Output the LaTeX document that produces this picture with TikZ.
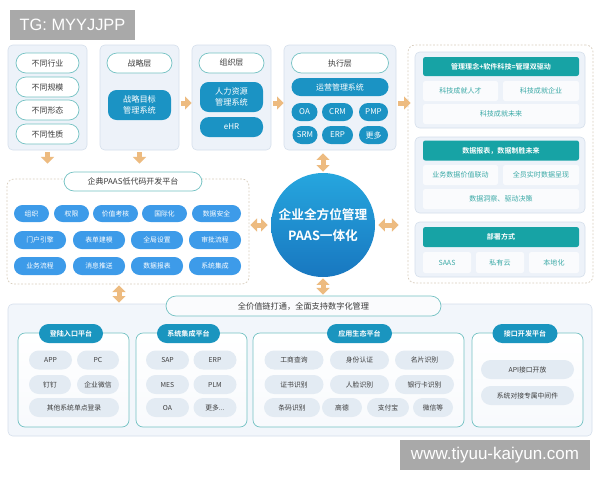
\documentclass[tikz,border=0pt]{standalone}
\usepackage{fontspec}
\setmainfont{Noto Sans CJK SC}[BoldFont={Noto Sans CJK SC Bold}]
\newfontfamily\wmfont{Liberation Sans}
\usetikzlibrary{arrows.meta, positioning, calc}
\definecolor{panelbg}{HTML}{EDF2F9}
\definecolor{panelln}{HTML}{D5DFEC}
\definecolor{tealln}{HTML}{74C2C3}
\definecolor{deepblue}{HTML}{1B93C4}
\definecolor{tealhead}{HTML}{17A3A5}
\definecolor{tealtxt}{HTML}{3AA9A6}
\definecolor{brightblue}{HTML}{3D9BE9}
\definecolor{itembg}{HTML}{E3EBF3}
\definecolor{dashln}{HTML}{D8CDBD}
\definecolor{arrowc}{HTML}{EDBB80}
\definecolor{txtc}{HTML}{3C3C3C}
\definecolor{wmgrey}{HTML}{A9A9A9}
\definecolor{hubtop}{HTML}{26A6DE}
\definecolor{hubbot}{HTML}{1877C0}
\tikzset{wh/.style 2 args={minimum width=#1*0.3mm, minimum height=#2*0.3mm}}

\begin{document}
\begin{tikzpicture}[x=0.3mm, y=-0.3mm,
    every node/.style={inner sep=0pt, align=center},
    panel/.style={draw=panelln, fill=panelbg, rounded corners=4pt, line width=0.5pt},
    group/.style={draw=dashln, dash pattern=on 1.5pt off 1.5pt, rounded corners=6pt, line width=0.6pt},
    tpill/.style={draw=tealln, fill=white, rounded corners=3mm, line width=0.6pt, text=txtc, font=\fontsize{6.8}{8}\selectfont},
    dbox/.style={fill=deepblue, rounded corners=2.6mm, text=white, font=\fontsize{7}{10}\selectfont},
    dcirc/.style={fill=deepblue, rounded corners=2.7mm, text=white, font=\fontsize{6.8}{8}\selectfont},
    head/.style={fill=tealhead, rounded corners=2pt, text=white, font=\fontsize{6}{7}\selectfont\bfseries},
    sub/.style={fill=white!70!panelbg, rounded corners=2pt, text=tealtxt, font=\fontsize{6}{7}\selectfont},
    bpill/.style={fill=brightblue, rounded corners=2.6mm, text=white, font=\fontsize{5.8}{7}\selectfont},
    subpanel/.style={draw=tealln, top color=white, bottom color=white!60!panelbg, rounded corners=6pt, line width=0.6pt},
    hpill/.style={fill=deepblue!85!tealhead, rounded corners=2.9mm, text=white, font=\fontsize{6}{7}\selectfont\bfseries},
    item/.style={fill=itembg, rounded corners=2.9mm, text=txtc, font=\fontsize{5.8}{7}\selectfont},
    hub/.style={circle, top color=hubtop, bottom color=hubbot, text=white, font=\fontsize{10.8}{18}\selectfont\bfseries},
    barr/.style={arrowc, line width=1.5mm, -{Triangle[length=2mm, width=3.8mm]}},
    darr/.style={arrowc, line width=1.5mm, {Triangle[length=2mm, width=3.8mm]}-{Triangle[length=2mm, width=3.8mm]}},
    mark box/.style={fill=wmgrey, text=white}]
    \useasboundingbox[fill=white] (0,0) rectangle (600,480);
    % watermark top
    \node[mark box, wh={125}{30}, font=\wmfont\fontsize{14}{16}\selectfont] (tg) at (72.5,25) {TG: MYYJJPP};
    % top row: four layers
    \node[panel, wh={79}{105}] (c1) at (47.5,97.5) {};
    \node[panel, wh={79}{105}] (c2) at (139.5,97.5) {};
    \node[panel, wh={79}{105}] (c3) at (231.5,97.5) {};
    \node[panel, wh={112}{105}] (c4) at (340,97.5) {};
    \foreach \t/\y [count=\i] in {不同行业/63, 不同规模/87, 不同形态/110, 不同性质/134}
        \node[tpill, wh={63}{20}] (c1p\i) at (47.5,\y) {\t};
    \node[tpill, wh={65}{20}] (c2p) at (139.5,63) {战略层};
    \node[dbox, wh={63}{30}] (c2b) at (139.5,105) {战略目标\\管理系统};
    \node[tpill, wh={65}{20}] (c3p) at (231.5,63) {组织层};
    \node[dbox, wh={63}{30}] (c3b) at (231.5,97) {人力资源\\管理系统};
    \node[dcirc, wh={63}{20}] (ehr) at (231.5,127) {eHR};
    \node[tpill, wh={97}{20}] (c4p) at (340,63) {执行层};
    \node[dcirc, wh={97}{18}] (ops) at (340,87) {运营管理系统};
    \foreach \t/\x/\w [count=\i] in {OA/304.5/26, CRM/337.5/31, PMP/373.5/29}
        \node[dcirc, wh={\w}{18}] (r1\i) at (\x,112) {\t};
    \foreach \t/\x/\w [count=\i] in {SRM/305/25, ERP/337.5/31, 更多/373.5/29}
        \node[dcirc, wh={\w}{18}] (r2\i) at (\x,135) {\t};
    % right group
    \node[group, wh={185}{238}] (rgrp) at (500.5,164) {};
    \node[panel, wh={170}{76}] (pa) at (500,90) {};
    \node[head, wh={156}{19}] (pah) at (501,66.5) {管理理念+软件科技=管理双驱动};
    \node[sub, wh={75}{20}] (pa1) at (460.5,91) {科技成就人才};
    \node[sub, wh={76}{20}] (pa2) at (541,91) {科技成就企业};
    \node[sub, wh={156}{20}] (pa3) at (501,114) {科技成就未来};
    \node[panel, wh={170}{76}] (pb) at (500,175) {};
    \node[head, wh={156}{20}] (pbh) at (501,150.5) {数据报表，数据制胜未来};
    \node[sub, wh={75}{20}] (pb1) at (460.5,175) {业务数据价值联动};
    \node[sub, wh={76}{20}] (pb2) at (541,175) {全员实时数据呈现};
    \node[sub, wh={156}{20}] (pb3) at (501,199) {数据洞察、驱动决策};
    \node[panel, wh={170}{55}] (pc) at (500,249.5) {};
    \node[head, wh={156}{20}] (pch) at (501,237) {部署方式};
    \foreach \t/\x/\w [count=\i] in {SAAS/447/48, 私有云/500/48, 本地化/554/50}
        \node[sub, wh={\w}{21}] (pc\i) at (\x,262.5) {\t};
    % hub
    \node[hub, minimum size=104*0.3mm] (hub) at (323,225) {企业全方位管理\\PAAS一体化};
    % left group
    \node[group, wh={242}{105}] (lgrp) at (128,231.5) {};
    \node[tpill, wh={138}{19}] (lgt) at (133,181.5) {企典PAAS低代码开发平台};
    \foreach \t/\x/\w [count=\i] in {组织/31.5/35, 权限/71.5/35, 价值考核/115.5/45, 国际化/164.5/45, 数据安全/216.5/49}
        \node[bpill, wh={\w}{17}] (la\i) at (\x,213.5) {\t};
    \foreach \t/\x [count=\i] in {门户引擎/40, 表单建模/99, 全局设置/157, 审批流程/215}
        \node[bpill, wh={52}{18}] (lb\i) at (\x,240) {\t};
    \foreach \t/\x [count=\i] in {业务流程/40, 消息推送/99, 数据报表/157, 系统集成/215}
        \node[bpill, wh={52}{18}] (lc\i) at (\x,266) {\t};
    % bottom platform
    \node[panel, fill=panelbg!70!white, wh={584}{132}] (bpan) at (300,370) {};
    \node[tpill, fill=white!70!panelbg, wh={275}{20}, font=\fontsize{7}{8}\selectfont] (btitle) at (303.5,306) {全价值链打通，全面支持数字化管理};
    \node[subpanel, wh={111}{94}] (s1) at (73.5,380) {};
    \node[subpanel, wh={111}{94}] (s2) at (191.5,380) {};
    \node[subpanel, wh={211}{94}] (s3) at (358.5,380) {};
    \node[subpanel, wh={111}{94}] (s4) at (527.5,380) {};
    \node[hpill, wh={64}{19}] (s1h) at (71,333.5) {登陆入口平台};
    \node[hpill, wh={63}{19}] (s2h) at (188.5,333.5) {系统集成平台};
    \node[hpill, wh={65}{19}] (s3h) at (359.5,333.5) {应用生态平台};
    \node[hpill, wh={65}{19}] (s4h) at (525,333.5) {接口开发平台};
    \foreach \t/\x/\y/\w [count=\i] in {APP/50.5/360/43, PC/98/360/42, 钉钉/50/384.5/42, 企业微信/98/384.5/42, 其他系统单点登录/74/407.5/90}
        \node[item, wh={\w}{19}] (s1i\i) at (\x,\y) {\t};
    \foreach \t/\x/\y [count=\i] in {SAP/167.5/360, ERP/215/360, MES/167.5/384.5, PLM/215/384.5, OA/167.5/407.5}
        \node[item, wh={43}{19}] (s2i\i) at (\x,\y) {\t};
    \node[item, wh={43}{19}] (s2i6) at (215,407.5) {更多...};
    \foreach \t/\x/\y [count=\i] in {工商查询/294/360, 身份认证/359.5/360, 名片识别/424.5/360, 证书识别/294/384.5, 人脸识别/359.5/384.5, 银行卡识别/424.5/384.5}
        \node[item, wh={59}{19}] (s3i\i) at (\x,\y) {\t};
    \foreach \t/\x/\w [count=\i] in {条码识别/292/56, 高德/342/40, 支付宝/388/42, 微信等/433/40}
        \node[item, wh={\w}{19}] (s3j\i) at (\x,407.5) {\t};
    \node[item, wh={93}{19}] (s4i1) at (527.5,369.5) {API接口开放};
    \node[item, wh={93}{19}] (s4i2) at (527.5,395.5) {系统对接专属中间件};
    % watermark bottom
    \node[mark box, wh={190}{30}, font=\wmfont\fontsize{14.5}{16}\selectfont] (www) at (495,455) {www.tiyuu-kaiyun.com};
    % connectors
    \draw[barr, shorten <=0.6mm, shorten >=4.5mm] (c1.south) -- (c1.south |- lgrp.north);
    \draw[barr, shorten <=0.6mm, shorten >=4.5mm] (c2.south) -- (c2.south |- lgrp.north);
    \foreach \s/\t in {c2/c3, c3/c4}
        \draw[barr, shorten <=0.6mm] ($(\s.east)+(0,5.5)$) -- ($(\t.west)+(0,5.5)$);
    \draw[barr, shorten <=0.6mm, shorten >=1.2mm] ($(c4.east)+(0,5.5)$) -- ($(c4.east -| pa.west)+(0,5.5)$);
    \draw[darr, shorten <=0.9mm, shorten >=0.3mm] (hub.north |- c4.south) -- (hub.north);
    \draw[darr, shorten <=0.3mm, shorten >=0.3mm] (hub.south) -- (hub.south |- btitle.north);
    \draw[darr, shorten <=0.3mm, shorten >=0.9mm] (lgrp.east |- hub.west) -- (hub.west);
    \draw[darr, shorten <=0.9mm, shorten >=2.7mm] (hub.east) -- (rgrp.west |- hub.east);
    \draw[darr, shorten <=0.3mm, shorten >=0.3mm] ($(lgrp.south)+(-9,0)$) -- ($(lgrp.south |- bpan.north)+(-9,0)$);
\end{tikzpicture}
\end{document}
